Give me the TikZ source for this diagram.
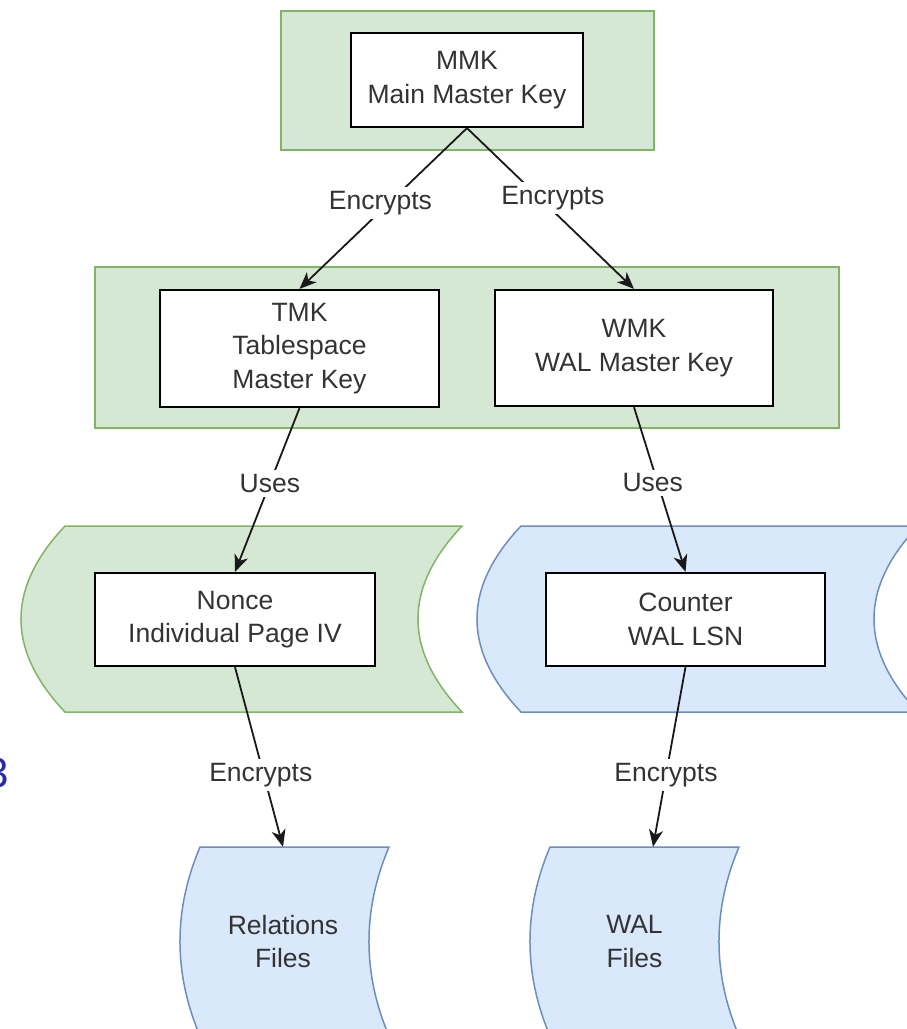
\documentclass[tikz,border=0pt]{standalone}
\usepackage{fontspec}
\setmainfont{Liberation Sans}
\usetikzlibrary{arrows.meta,calc}
\definecolor{gfill}{HTML}{D5E8D4}
\definecolor{gline}{HTML}{82B366}
\definecolor{bfill}{HTML}{DAE8FC}
\definecolor{bline}{HTML}{6C8EBF}
\definecolor{txt}{HTML}{333333}
\definecolor{dblue}{RGB}{35,45,170}
\tikzset{
  container/.style={draw=gline, fill=gfill, line width=2pt, inner sep=0pt},
  keybox/.style={draw=black, fill=white, line width=2.2pt, inner sep=0pt, align=center, text=txt, font=\fontsize{26.5}{33.5}\selectfont},
  tapeg/.style={draw=gline, fill=gfill, line width=1.5pt},
  tapeb/.style={draw=bline, fill=bfill, line width=1.5pt},
  conn/.style={draw=black!90, line width=1.8pt, -{Stealth[length=17pt,width=14pt,inset=5pt]}},
  lbl/.style={fill=white, text=txt, inner sep=4pt, font=\fontsize{26.5}{33.5}\selectfont},
  txtnode/.style={text=txt, align=center, inner sep=0pt, font=\fontsize{26.5}{33.5}\selectfont},
}
\begin{document}
\begin{tikzpicture}[x=1pt,y=-1pt]
\useasboundingbox (0,0) rectangle (907,1029);
\fill[white] (0,0) rectangle (907,1029);

% containers
\node[container, minimum width=373pt, minimum height=139pt] (g1) at (467.5,80.5) {};
\node[container, minimum width=744pt, minimum height=161pt] (g2) at (467,347.5) {};

% tapes (stored data shapes)
\path[tapeg] (65,526) -- (462,526) .. controls (403.3,588) and (403.3,650) .. (462,712) -- (65,712) .. controls (6.3,650) and (6.3,588) .. (65,526) -- cycle;
\path[tapeb] (521,526) -- (918,526) .. controls (859.3,588) and (859.3,650) .. (918,712) -- (521,712) .. controls (462.3,650) and (462.3,588) .. (521,526) -- cycle;
\path[tapeb] (200,847) -- (389,847) .. controls (362.3,910) and (362.3,973) .. (389,1036) -- (200,1036) .. controls (173.3,973) and (173.3,910) .. (200,847) -- cycle;
\path[tapeb] (550,847) -- (739,847) .. controls (712.3,910) and (712.3,973) .. (739,1036) -- (550,1036) .. controls (523.3,973) and (523.3,910) .. (550,847) -- cycle;

% key boxes
\node[keybox, minimum width=232pt, minimum height=94pt] (mmk) at (467,80) {MMK\\Main Master Key};
\node[keybox, minimum width=279pt, minimum height=117pt] (tmk) at (299.5,348.5) {TMK\\Tablespace\\Master Key};
\node[keybox, minimum width=278pt, minimum height=116pt] (wmk) at (634,348) {WMK\\WAL Master Key};
\node[keybox, minimum width=280pt, minimum height=93pt] (nonce) at (235,619.5) {Nonce\\Individual Page IV};
\node[keybox, minimum width=279pt, minimum height=93pt] (counter) at (685.5,619.5) {Counter\\WAL LSN};

% file shapes text
\node[txtnode, minimum width=209pt, minimum height=189pt] (rel) at (283,941.5) {Relations\\Files};
\node[txtnode, minimum width=209pt, minimum height=189pt] (wal) at (634.5,941.5) {WAL\\Files};

% connectors
\draw[conn] (mmk.south) -- (tmk.north) node[lbl, pos=0.466, xshift=-8.5pt] {Encrypts};
\draw[conn] (mmk.south) -- (wmk.north) node[lbl, pos=0.436, xshift=13pt] {Encrypts};
\draw[conn] (tmk.south) -- (nonce.north) node[lbl, pos=0.46] {Uses};
\draw[conn] (wmk.south) -- (counter.north) node[lbl, pos=0.46, xshift=-5pt] {Uses};
\draw[conn] (nonce.south) -- (rel.north) node[lbl, pos=0.6, xshift=-3pt] {Encrypts};
\draw[conn] (counter.south) -- ([xshift=18.5pt]wal.north) node[lbl, pos=0.6] {Encrypts};

% stray glyph at left edge
\node[text=dblue, font=\fontsize{42}{42}\selectfont, anchor=east, inner sep=0pt] (three) at (9,773) {3};
\end{tikzpicture}
\end{document}
